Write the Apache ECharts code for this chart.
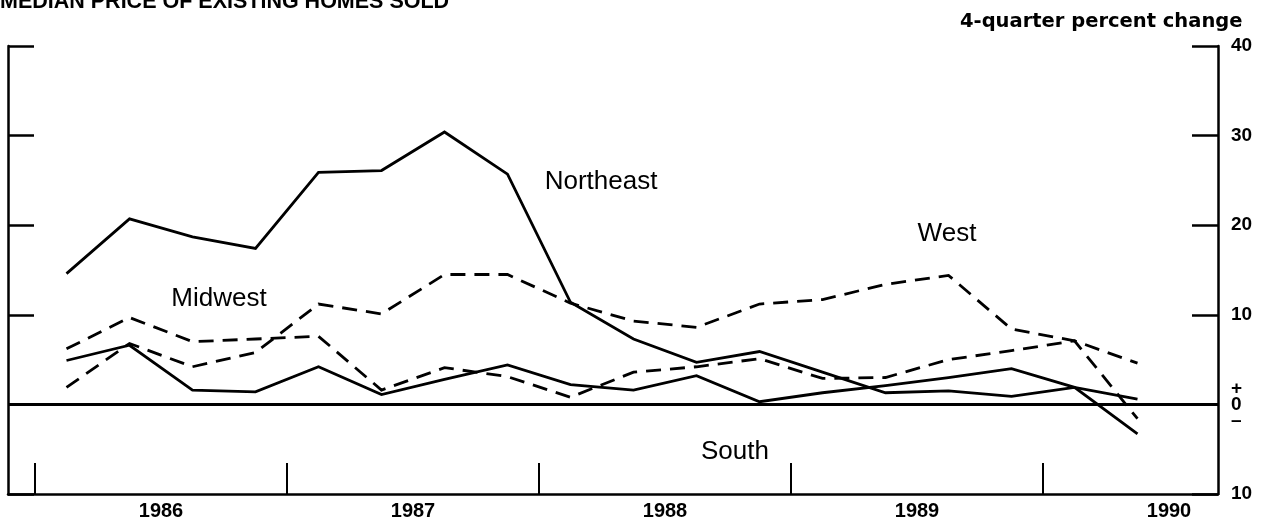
<!DOCTYPE html>
<html>
<head>
<meta charset="utf-8">
<script src="https://cdn.jsdelivr.net/npm/echarts@6/dist/echarts.min.js"></script>
<style>
  html, body { margin: 0; padding: 0; background: #fff; }
  #chart { width: 1268px; height: 526px; }
</style>
</head>
<body>
<div id="chart"></div>
<script>
// quarterly observations, 1986:Q1 .. 1990:Q2
const quarters = ['1986Q1','1986Q2','1986Q3','1986Q4','1987Q1','1987Q2','1987Q3','1987Q4',
  '1988Q1','1988Q2','1988Q3','1988Q4','1989Q1','1989Q2','1989Q3','1989Q4','1990Q1','1990Q2']
const northeast = [14.6, 20.7, 18.7, 17.4, 25.9, 26.1, 30.4, 25.7, 11.4, 7.3, 4.7, 5.9, 3.6, 1.3, 1.5, 0.9, 1.9, 0.6]
const midwest   = [6.2, 9.7, 7.0, 7.3, 7.6, 1.6, 4.1, 3.1, 0.8, 3.6, 4.2, 5.1, 2.9, 3.0, 5.0, 6.0, 7.1, -1.6]
const south     = [4.9, 6.6, 1.6, 1.4, 4.2, 1.1, 2.8, 4.4, 2.2, 1.6, 3.2, 0.3, 1.3, 2.1, 3.0, 4.0, 1.9, -3.3]
const west      = [1.9, 6.8, 4.2, 5.8, 11.2, 10.1, 14.5, 14.5, 11.3, 9.3, 8.6, 11.2, 11.7, 13.4, 14.4, 8.4, 7.1, 4.6]
const years = ['1986', '1987', '1988', '1989', '1990']
const yTicks = [-10, 0, 10, 20, 30, 40]

const FONT = '"Liberation Sans", Arial, Helvetica, sans-serif'

// quarter label -> position in years (mid-quarter)
const qx = q => +q.slice(0, 4) + (+q.slice(5) - 0.5) / 4
const pts = arr => quarters.map((q, i) => [qx(q), arr[i]])

const yearStarts = years.map(y => +y)
const yearMids = years.map(y => +y + 0.5)

const chart = echarts.init(document.getElementById('chart'))

const lineSeries = (name, data, dashed) => ({
  name,
  type: 'line',
  data: pts(data),
  symbol: 'none',
  silent: true,
  lineStyle: {
    color: '#000',
    width: 2.8,
    type: dashed ? [15, 9] : 'solid',
    cap: 'butt',
    join: 'miter'
  }
})

const yCommon = {
  type: 'value',
  min: yTicks[0],
  max: yTicks[yTicks.length - 1],
  interval: 10,
  splitLine: { show: false },
  axisLine: { show: true, lineStyle: { color: '#000', width: 2.5 } },
  axisTick: { show: true, inside: true, length: 26, lineStyle: { color: '#000', width: 2.5 } }
}

chart.setOption({
  animation: false,
  backgroundColor: '#fff',
  grid: { left: 8, right: 50, top: 46, bottom: 32 },
  xAxis: {
    type: 'value',
    min: 1986 - 27 / 252,
    max: 1986 + 1183 / 252,
    splitLine: { show: false },
    axisLine: { show: true, onZero: false, lineStyle: { color: '#000', width: 2.5 } },
    axisTick: {
      show: true, inside: true, length: 31,
      customValues: yearStarts,
      lineStyle: { color: '#000', width: 2 }
    },
    axisLabel: {
      customValues: yearMids,
      formatter: v => String(Math.floor(v)),
      color: '#000', fontFamily: FONT, fontWeight: 'bold', fontSize: 20, margin: 7
    }
  },
  yAxis: [
    Object.assign({}, yCommon, {
      position: 'right',
      axisLabel: {
        color: '#000', fontFamily: FONT, fontWeight: 'bold', fontSize: 19, margin: 13,
        formatter: v => v === 0 ? '+\n0\n\u2013' : String(Math.abs(v)),
        lineHeight: 16
      }
    }),
    Object.assign({}, yCommon, {
      position: 'left',
      axisLabel: { show: false }
    })
  ],
  series: [
    lineSeries('Northeast', northeast, false),
    lineSeries('South', south, false),
    lineSeries('Midwest', midwest, true),
    Object.assign(lineSeries('West', west, true), {
      markLine: {
        silent: true,
        symbol: 'none',
        label: { show: false },
        lineStyle: { color: '#000', width: 2.8, type: 'solid' },
        data: [{ yAxis: 0 }]
      }
    })
  ],
  graphic: [
    { type: 'text', left: 0, top: -9,
      style: { text: 'MEDIAN PRICE OF EXISTING HOMES SOLD', font: 'bold 21.5px ' + FONT, fill: '#000' } },
    { type: 'text', x: 960, y: 22,
      style: { text: '4-quarter percent change', font: 'bold 19.5px "DejaVu Sans", sans-serif', fill: '#000', verticalAlign: 'middle' } },
    { type: 'text', x: 601, y: 182,
      style: { text: 'Northeast', font: '26px ' + FONT, fill: '#000', align: 'center', verticalAlign: 'middle' } },
    { type: 'text', x: 219, y: 299,
      style: { text: 'Midwest', font: '26px ' + FONT, fill: '#000', align: 'center', verticalAlign: 'middle' } },
    { type: 'text', x: 947, y: 234,
      style: { text: 'West', font: '26px ' + FONT, fill: '#000', align: 'center', verticalAlign: 'middle' } },
    { type: 'text', x: 735, y: 452,
      style: { text: 'South', font: '26px ' + FONT, fill: '#000', align: 'center', verticalAlign: 'middle' } }
  ]
})
</script>
</body>
</html>
